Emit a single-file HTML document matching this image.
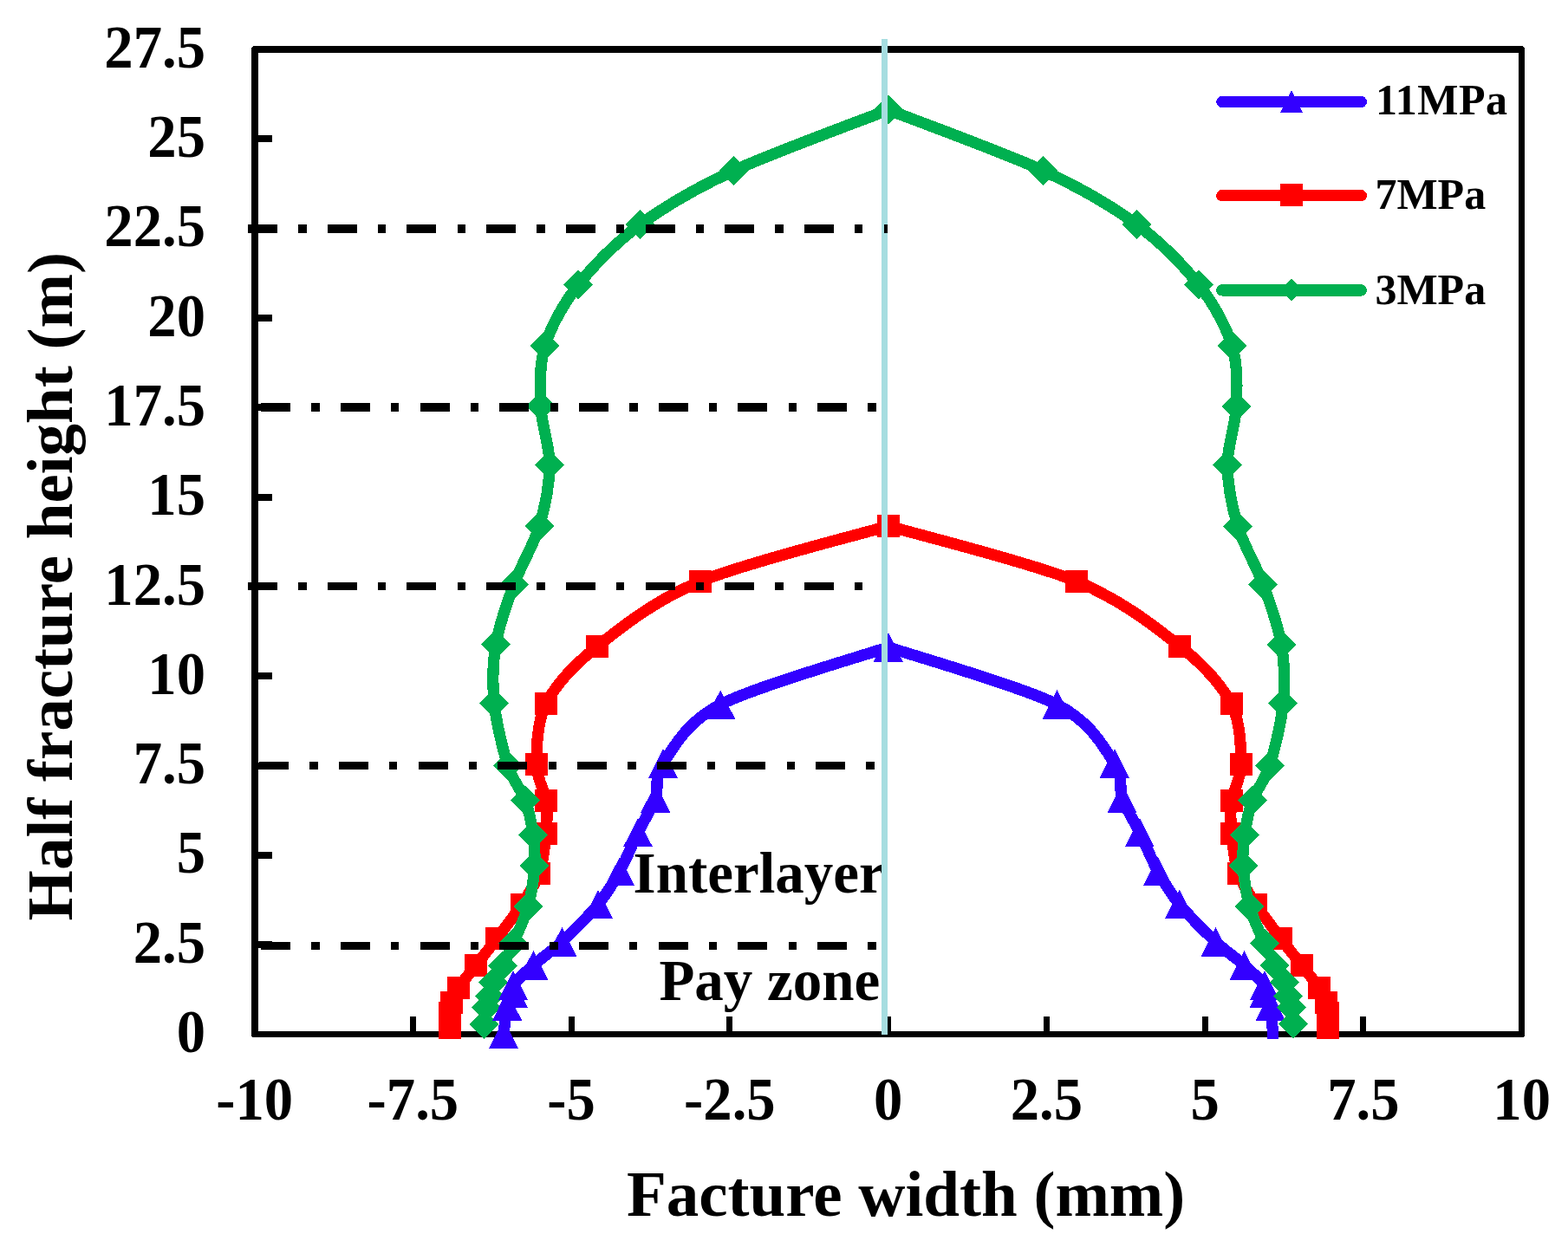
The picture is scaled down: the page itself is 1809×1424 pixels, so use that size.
<!DOCTYPE html>
<html lang="en">
<head>
<meta charset="utf-8">
<title>Fracture width vs half fracture height</title>
<style>
html,body{margin:0;padding:0;background:#fff;}
body{width:1809px;height:1424px;overflow:hidden;}
svg{display:block;}
text{font-family:"Liberation Serif", "DejaVu Serif", serif;font-weight:bold;fill:#000;}
.tick{font-size:66.7px;}
.title{font-size:75px;}
.leg{font-size:50px;}
.note{font-size:67px;}
</style>
</head>
<body>
<svg width="1809" height="1424" viewBox="0 0 1809 1424" shape-rendering="crispEdges" role="img" aria-label="Fracture width versus half fracture height for 11MPa, 7MPa and 3MPa">
<rect width="1809" height="1424" fill="#fff"/>
<g id="axes" fill="#000">
<rect x="293.5" y="56.5" width="1462" height="1137" fill="none" stroke="#000" stroke-width="7" stroke-linejoin="round"/>
<rect x="296" y="56" width="2" height="1138"/>
<rect x="294" y="59" width="1460" height="1.8"/>
<rect x="296" y="1086.1" width="18" height="8"/>
<rect x="296" y="982.8" width="18" height="8"/>
<rect x="296" y="879.5" width="18" height="8"/>
<rect x="296" y="776.2" width="18" height="8"/>
<rect x="296" y="672.9" width="18" height="8"/>
<rect x="296" y="569.6" width="18" height="8"/>
<rect x="296" y="466.3" width="18" height="8"/>
<rect x="296" y="363" width="18" height="8"/>
<rect x="296" y="259.7" width="18" height="8"/>
<rect x="296" y="156.4" width="18" height="8"/>
<rect x="472.95" y="1173" width="6.9" height="18"/>
<rect x="655.7" y="1173" width="6.9" height="18"/>
<rect x="838.45" y="1173" width="6.9" height="18"/>
<rect x="1021.2" y="1173" width="6.9" height="18"/>
<rect x="1203.95" y="1173" width="6.9" height="18"/>
<rect x="1386.7" y="1173" width="6.9" height="18"/>
<rect x="1569.45" y="1173" width="6.9" height="18"/>
</g>
<defs><clipPath id="plotclip"><rect x="290" y="53" width="1469" height="1145.9"/></clipPath></defs>
<g id="series" shape-rendering="crispEdges">
<path d="M1024.8 746.8C1054.96 757.06 1178.94 792.23 1219.4 813C1259.86 833.77 1274.17 864.06 1285.83 880.8C1297.49 897.54 1290.09 908.62 1294.6 921C1299.11 933.38 1308.5 947.62 1314.9 960.7C1321.3 973.78 1328.79 992.55 1335.9 1005.4C1343.01 1018.25 1350.46 1030.98 1360.8 1043.6C1371.14 1056.22 1391.01 1075.92 1402.6 1086.8C1414.19 1097.68 1426.87 1106.02 1435.6 1113.8C1444.33 1121.58 1455.29 1132.04 1458.9 1137C1462.51 1141.96 1457.83 1142.11 1458.9 1145.8C1459.97 1149.49 1464.19 1151.47 1465.8 1160.8C1467.41 1170.13 1468.76 1198.99 1469.3 1206" fill="none" stroke="#3300FF" stroke-width="13.2" stroke-linejoin="round" clip-path="url(#plotclip)"/>
<path d="M1024.8 730.05L1041.8 763.55L1007.8 763.55ZM1219.4 796.25L1236.4 829.75L1202.4 829.75ZM1285.83 864.05L1302.83 897.55L1268.83 897.55ZM1294.6 904.25L1311.6 937.75L1277.6 937.75ZM1314.9 943.95L1331.9 977.45L1297.9 977.45ZM1335.9 988.65L1352.9 1022.15L1318.9 1022.15ZM1360.8 1026.85L1377.8 1060.35L1343.8 1060.35ZM1402.6 1070.05L1419.6 1103.55L1385.6 1103.55ZM1435.6 1097.05L1452.6 1130.55L1418.6 1130.55ZM1458.9 1120.25L1475.9 1153.75L1441.9 1153.75ZM1458.9 1129.05L1475.9 1162.55L1441.9 1162.55ZM1465.8 1144.05L1482.8 1177.55L1448.8 1177.55Z" fill="#3300FF"/>
<path d="M1024.9 607C991.27 616.9 859.97 649.36 807.9 670.9C755.83 692.44 716.52 724.13 688.95 746C661.38 767.87 640.88 790.95 630.05 812C619.22 833.05 619.11 864.44 619.1 881.8C619.09 899.16 628.31 911.57 630 924C631.69 936.43 631.24 948.98 630 962C628.76 975.02 626.37 995.32 622 1008C617.63 1020.68 609.38 1032.14 601.8 1043.8C594.22 1055.46 581.28 1072.32 573.1 1083.2C564.92 1094.08 555.84 1105.21 549 1114C542.16 1122.79 533.32 1133.24 529 1139.9C524.68 1146.57 522.63 1152.49 521.1 1157C519.57 1161.51 519.41 1164.52 519.1 1169C518.79 1173.48 519.1 1183.28 519.1 1185.9" fill="none" stroke="#FF0000" stroke-width="13.2" stroke-linejoin="round" clip-path="url(#plotclip)"/>
<path d="M1011.9 594h26v26h-26ZM794.9 657.9h26v26h-26ZM675.95 733h26v26h-26ZM617.05 799h26v26h-26ZM606.1 868.8h26v26h-26ZM617 911h26v26h-26ZM617 949h26v26h-26ZM609 995h26v26h-26ZM588.8 1030.8h26v26h-26ZM560.1 1070.2h26v26h-26ZM536 1101h26v26h-26ZM516 1126.9h26v26h-26ZM508.1 1144h26v26h-26ZM506.1 1156h26v26h-26ZM506.1 1172.9h26v26h-26Z" fill="#FF0000"/>
<path d="M1024.9 607C1058.6 616.9 1190.14 649.36 1242.3 670.9C1294.46 692.44 1333.78 724.13 1361.41 746C1389.04 767.87 1409.64 790.95 1420.54 812C1431.44 833.05 1431.68 864.44 1431.74 881.8C1431.8 899.16 1422.58 911.57 1420.9 924C1419.22 936.43 1419.66 948.98 1420.9 962C1422.14 975.02 1424.53 995.32 1428.9 1008C1433.27 1020.68 1441.52 1032.14 1449.1 1043.8C1456.68 1055.46 1469.62 1072.32 1477.8 1083.2C1485.98 1094.08 1495.06 1105.21 1501.9 1114C1508.74 1122.79 1517.58 1133.24 1521.9 1139.9C1526.22 1146.57 1528.27 1152.49 1529.8 1157C1531.33 1161.51 1531.49 1164.52 1531.8 1169C1532.11 1173.48 1531.8 1183.28 1531.8 1185.9" fill="none" stroke="#FF0000" stroke-width="13.2" stroke-linejoin="round" clip-path="url(#plotclip)"/>
<path d="M1011.9 594h26v26h-26ZM1229.3 657.9h26v26h-26ZM1348.41 733h26v26h-26ZM1407.54 799h26v26h-26ZM1418.74 868.8h26v26h-26ZM1407.9 911h26v26h-26ZM1407.9 949h26v26h-26ZM1415.9 995h26v26h-26ZM1436.1 1030.8h26v26h-26ZM1464.8 1070.2h26v26h-26ZM1488.9 1101h26v26h-26ZM1508.9 1126.9h26v26h-26ZM1516.8 1144h26v26h-26ZM1518.8 1156h26v26h-26ZM1518.8 1172.9h26v26h-26Z" fill="#FF0000"/>
<path d="M1024.9 126.8C997.25 137.68 890.85 176.51 846.5 197C802.15 217.49 766.62 238.57 738.8 259C710.98 279.43 684.05 307.1 667 328.8C649.95 350.5 635.5 377.3 628.8 399C622.1 420.7 622.98 447.49 623.8 468.8C624.62 490.11 634.35 515.05 634.1 536.5C633.85 557.95 628.6 585.81 622.2 607.2C615.8 628.59 600.58 653.31 592.8 674.5C585.02 695.69 575.5 722.66 572 743.9C568.5 765.13 568.03 789.85 570.2 811.5C572.37 833.15 580.45 866.21 586 883.6C591.55 900.99 601.49 911.27 606 923.7C610.51 936.13 613.43 952.11 615.1 963.8C616.77 975.49 617.71 986.36 616.8 999.1C615.89 1011.84 613.04 1032.1 609.2 1046C605.36 1059.9 596.51 1078.23 592 1088.8C587.49 1099.37 583.68 1107.32 580.1 1114.2C576.52 1121.08 571.26 1127.68 568.9 1133.2C566.54 1138.72 566.12 1145.2 564.9 1149.8C563.68 1154.4 561.95 1157.92 561 1162.9C560.05 1167.88 559.14 1178.96 558.8 1181.9" fill="none" stroke="#00B050" stroke-width="13.2" stroke-linejoin="round" clip-path="url(#plotclip)"/>
<path d="M1024.9 109.8L1041.9 126.8L1024.9 143.8L1007.9 126.8ZM846.5 180L863.5 197L846.5 214L829.5 197ZM738.8 242L755.8 259L738.8 276L721.8 259ZM667 311.8L684 328.8L667 345.8L650 328.8ZM628.8 382L645.8 399L628.8 416L611.8 399ZM623.8 451.8L640.8 468.8L623.8 485.8L606.8 468.8ZM634.1 519.5L651.1 536.5L634.1 553.5L617.1 536.5ZM622.2 590.2L639.2 607.2L622.2 624.2L605.2 607.2ZM592.8 657.5L609.8 674.5L592.8 691.5L575.8 674.5ZM572 726.9L589 743.9L572 760.9L555 743.9ZM570.2 794.5L587.2 811.5L570.2 828.5L553.2 811.5ZM586 866.6L603 883.6L586 900.6L569 883.6ZM606 906.7L623 923.7L606 940.7L589 923.7ZM615.1 946.8L632.1 963.8L615.1 980.8L598.1 963.8ZM616.8 982.1L633.8 999.1L616.8 1016.1L599.8 999.1ZM609.2 1029L626.2 1046L609.2 1063L592.2 1046ZM592 1071.8L609 1088.8L592 1105.8L575 1088.8ZM580.1 1097.2L597.1 1114.2L580.1 1131.2L563.1 1114.2ZM568.9 1116.2L585.9 1133.2L568.9 1150.2L551.9 1133.2ZM564.9 1132.8L581.9 1149.8L564.9 1166.8L547.9 1149.8ZM561 1145.9L578 1162.9L561 1179.9L544 1162.9ZM558.8 1164.9L575.8 1181.9L558.8 1198.9L541.8 1181.9Z" fill="#00B050"/>
<path d="M1024.9 126.8C1052.61 137.68 1159.29 176.51 1203.7 197C1248.11 217.49 1283.58 238.57 1311.4 259C1339.22 279.43 1366.15 307.1 1383.2 328.8C1400.25 350.5 1414.7 377.3 1421.4 399C1428.1 420.7 1427.22 447.49 1426.4 468.8C1425.58 490.11 1415.85 515.05 1416.1 536.5C1416.35 557.95 1421.6 585.81 1428 607.2C1434.4 628.59 1449.6 653.31 1457.4 674.5C1465.2 695.69 1474.79 722.66 1478.35 743.9C1481.91 765.13 1482.48 789.85 1480.39 811.5C1478.3 833.15 1470.34 866.21 1464.84 883.6C1459.34 900.99 1449.4 911.27 1444.9 923.7C1440.4 936.13 1437.47 952.11 1435.8 963.8C1434.13 975.49 1433.19 986.36 1434.1 999.1C1435.01 1011.84 1437.86 1032.1 1441.7 1046C1445.54 1059.9 1454.39 1078.23 1458.9 1088.8C1463.41 1099.37 1467.22 1107.32 1470.8 1114.2C1474.38 1121.08 1479.64 1127.68 1482 1133.2C1484.36 1138.72 1484.78 1145.2 1486 1149.8C1487.22 1154.4 1488.95 1157.92 1489.9 1162.9C1490.85 1167.88 1491.76 1178.96 1492.1 1181.9" fill="none" stroke="#00B050" stroke-width="13.2" stroke-linejoin="round" clip-path="url(#plotclip)"/>
<path d="M1024.9 109.8L1041.9 126.8L1024.9 143.8L1007.9 126.8ZM1203.7 180L1220.7 197L1203.7 214L1186.7 197ZM1311.4 242L1328.4 259L1311.4 276L1294.4 259ZM1383.2 311.8L1400.2 328.8L1383.2 345.8L1366.2 328.8ZM1421.4 382L1438.4 399L1421.4 416L1404.4 399ZM1426.4 451.8L1443.4 468.8L1426.4 485.8L1409.4 468.8ZM1416.1 519.5L1433.1 536.5L1416.1 553.5L1399.1 536.5ZM1428 590.2L1445 607.2L1428 624.2L1411 607.2ZM1457.4 657.5L1474.4 674.5L1457.4 691.5L1440.4 674.5ZM1478.35 726.9L1495.35 743.9L1478.35 760.9L1461.35 743.9ZM1480.39 794.5L1497.39 811.5L1480.39 828.5L1463.39 811.5ZM1464.84 866.6L1481.84 883.6L1464.84 900.6L1447.84 883.6ZM1444.9 906.7L1461.9 923.7L1444.9 940.7L1427.9 923.7ZM1435.8 946.8L1452.8 963.8L1435.8 980.8L1418.8 963.8ZM1434.1 982.1L1451.1 999.1L1434.1 1016.1L1417.1 999.1ZM1441.7 1029L1458.7 1046L1441.7 1063L1424.7 1046ZM1458.9 1071.8L1475.9 1088.8L1458.9 1105.8L1441.9 1088.8ZM1470.8 1097.2L1487.8 1114.2L1470.8 1131.2L1453.8 1114.2ZM1482 1116.2L1499 1133.2L1482 1150.2L1465 1133.2ZM1486 1132.8L1503 1149.8L1486 1166.8L1469 1149.8ZM1489.9 1145.9L1506.9 1162.9L1489.9 1179.9L1472.9 1162.9ZM1492.1 1164.9L1509.1 1181.9L1492.1 1198.9L1475.1 1181.9Z" fill="#00B050"/>
<path d="M1024.8 746.8C994.79 757.06 871.47 792.23 831.2 813C790.93 833.77 776.61 864.06 765 880.8C753.39 897.54 760.79 908.62 756.3 921C751.8 933.38 742.4 947.62 736 960.7C729.6 973.78 722.11 992.55 715 1005.4C707.89 1018.25 700.44 1030.98 690.1 1043.6C679.76 1056.22 659.89 1075.92 648.3 1086.8C636.71 1097.68 624.03 1106.02 615.3 1113.8C606.57 1121.58 595.61 1132.04 592 1137C588.39 1141.96 593.07 1142.11 592 1145.8C590.93 1149.49 586.79 1153.48 585.1 1160.8C583.41 1168.12 581.72 1188.01 581.1 1193" fill="none" stroke="#3300FF" stroke-width="13.2" stroke-linejoin="round" clip-path="url(#plotclip)"/>
<path d="M1024.8 730.05L1041.8 763.55L1007.8 763.55ZM831.2 796.25L848.2 829.75L814.2 829.75ZM765 864.05L782 897.55L748 897.55ZM756.3 904.25L773.3 937.75L739.3 937.75ZM736 943.95L753 977.45L719 977.45ZM715 988.65L732 1022.15L698 1022.15ZM690.1 1026.85L707.1 1060.35L673.1 1060.35ZM648.3 1070.05L665.3 1103.55L631.3 1103.55ZM615.3 1097.05L632.3 1130.55L598.3 1130.55ZM592 1120.25L609 1153.75L575 1153.75ZM592 1129.05L609 1162.55L575 1162.55ZM585.1 1144.05L602.1 1177.55L568.1 1177.55ZM581.1 1176.25L598.1 1209.75L564.1 1209.75Z" fill="#3300FF"/>
</g>
<text class="note" x="730.6" y="1030.3">Interlayer</text>
<text class="note" x="760.4" y="1153.9">Pay zone</text>
<rect x="1017" y="45" width="7" height="1148.7" fill="#A6DDE0"/>
<g id="layers" stroke="#000" fill="none" stroke-dasharray="34 24.2 9.3 24.2">
<path d="M286 264H1023.8" stroke-width="10"/>
<path d="M301.2 470H1012" stroke-width="10"/>
<path d="M286 676.5H1000" stroke-width="9"/>
<path d="M299.2 883.5H1010" stroke-width="9"/>
<path d="M301.1 1091.5H1012" stroke-width="9"/>
</g>
<g class="tick" text-anchor="end">
<text transform="translate(237 1214) scale(1 1.035)">0</text>
<text transform="translate(237 1110.7) scale(1 1.035)">2.5</text>
<text transform="translate(237 1007.4) scale(1 1.035)">5</text>
<text transform="translate(237 904.1) scale(1 1.035)">7.5</text>
<text transform="translate(237 800.8) scale(1 1.035)">10</text>
<text transform="translate(237 697.5) scale(1 1.035)">12.5</text>
<text transform="translate(237 594.2) scale(1 1.035)">15</text>
<text transform="translate(237 490.9) scale(1 1.035)">17.5</text>
<text transform="translate(237 387.6) scale(1 1.035)">20</text>
<text transform="translate(237 284.3) scale(1 1.035)">22.5</text>
<text transform="translate(237 181) scale(1 1.035)">25</text>
<text transform="translate(237 77.7) scale(1 1.035)">27.5</text>
</g>
<g class="tick" text-anchor="middle">
<text transform="translate(293.65 1292.4) scale(1 1.035)">-10</text>
<text transform="translate(476.4 1292.4) scale(1 1.035)">-7.5</text>
<text transform="translate(659.15 1292.4) scale(1 1.035)">-5</text>
<text transform="translate(841.9 1292.4) scale(1 1.035)">-2.5</text>
<text transform="translate(1024.65 1292.4) scale(1 1.035)">0</text>
<text transform="translate(1207.4 1292.4) scale(1 1.035)">2.5</text>
<text transform="translate(1390.15 1292.4) scale(1 1.035)">5</text>
<text transform="translate(1572.9 1292.4) scale(1 1.035)">7.5</text>
<text transform="translate(1755.65 1292.4) scale(1 1.035)">10</text>
</g>
<text class="title" x="723" y="1403.3">Facture width (mm)</text>
<text class="title" transform="translate(82.5 1062.4) rotate(-90)">Half fracture height (m)</text>
<g id="legend" shape-rendering="crispEdges">
<path d="M1409.8 117.5H1570.3" stroke="#3300FF" stroke-width="13.3" stroke-linecap="round" fill="none"/>
<path d="M1490 104.25L1503 129.75L1477 129.75Z" fill="#3300FF"/>
<text class="leg" x="1587" y="131.9" letter-spacing="0.5">11MPa</text>
<path d="M1409.8 225.7H1570.3" stroke="#FF0000" stroke-width="13.3" stroke-linecap="round" fill="none"/>
<path d="M1477 212h26v26h-26Z" fill="#FF0000"/>
<text class="leg" x="1586.4" y="241.2">7MPa</text>
<path d="M1409.8 334.9H1570.3" stroke="#00B050" stroke-width="13.3" stroke-linecap="round" fill="none"/>
<path d="M1490 321.7L1503 334.7L1490 347.7L1477 334.7Z" fill="#00B050"/>
<text class="leg" x="1586.4" y="350.6">3MPa</text>
</g>
</svg>
</body>
</html>
